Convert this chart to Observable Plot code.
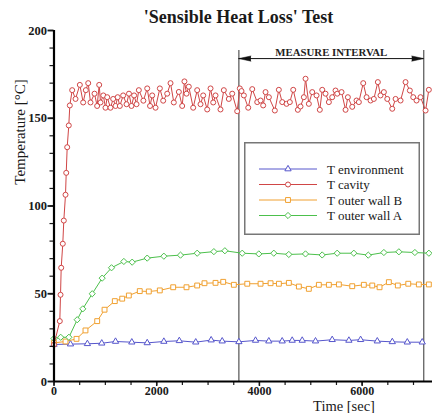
<!DOCTYPE html>
<html>
<head>
<meta charset="utf-8">
<script src="https://cdn.jsdelivr.net/npm/d3@7"></script>
<script src="https://cdn.jsdelivr.net/npm/@observablehq/plot@0.6"></script>
<style>
  body { margin: 0; background: #fff; }
  #wrap { position: relative; width: 432px; height: 413px; overflow: hidden;
          font-family: "Liberation Serif", "Times New Roman", serif; color: #1a1a1a; }
  #wrap > svg { position: absolute; left: 0; top: 0; }
  .title { position: absolute; left: 238.5px; top: 6px; transform: translateX(-50%);
           white-space: nowrap; font-weight: bold; font-size: 18px; line-height: 22px; }
  .ylab { position: absolute; left: 20px; top: 132px; transform: translate(-50%, -50%) rotate(-90deg);
          white-space: nowrap; font-size: 15px; }
  .xlab { position: absolute; left: 344px; top: 399px; transform: translateX(-50%);
          white-space: nowrap; font-size: 14.5px; line-height: 14px; }
</style>
</head>
<body>
<div id="wrap">
  <div class="title">'Sensible Heat Loss' Test</div>
  <div class="ylab">Temperature [°C]</div>
  <div class="xlab">Time [sec]</div>
</div>
<script>
// ---- data: [time (sec), temperature (°C)] ----
const environment = [[0,21.1],[321,21.3],[650,21.5],[930,21.8],[1198,22.8],[1515,22.4],[1815,22],[2139,22.8],[2440,23.2],[2760,22.4],[3060,23.6],[3275,23],[3600,22.6],[3924,23.4],[4183,23],[4443,23],[4638,23.4],[4833,23.4],[5092,23],[5417,23.8],[5742,23.4],[5970,23.8],[6295,23],[6587,22.6],[6879,22.4],[7170,22.4]];

const cavity = [[0,21],[113,34.4],[127,49.4],[140,64.8],[171,78.5],[191,91.7],[224,106.4],[238,118.9],[257,133.5],[288,145.9],[308,157.3],[354,166],[419,161],[503,169],[568,159],[620,166],[666,170],[711,159],[789,164],[840,157],[880,169],[906,159],[960,163],[1003,156],[1036,162],[1100,156],[1152,161],[1198,157],[1240,162],[1282,157],[1347,163],[1412,158],[1460,164],[1509,157],[1560,163],[1607,158],[1652,166],[1740,160],[1815,167],[1870,157],[1912,163],[1977,156],[2061,167],[2126,160],[2204,164],[2269,170],[2333,159],[2431,165],[2496,157],[2540,171],[2580,164],[2625,168],[2710,156],[2788,166],[2853,158],[2905,163],[2983,155],[3048,167],[3100,159],[3145,163],[3242,155],[3307,166],[3404,161],[3470,164],[3567,154],[3618,167],[3651,165.5],[3697,163],[3782,156],[3860,166.6],[3957,159.2],[4022,160.1],[4073,157.3],[4119,164.9],[4184,162],[4300,154.4],[4378,166.2],[4444,159.2],[4528,158.2],[4592,159.2],[4658,166.2],[4748,154.8],[4800,156.7],[4865,162],[4898,172.5],[4962,158.2],[5028,164.9],[5112,163],[5176,154.8],[5223,166.2],[5287,164],[5352,159.2],[5417,162],[5482,165.8],[5515,164],[5599,164.9],[5677,154.8],[5722,162],[5807,156.5],[5891,160.1],[5936,159.2],[6021,170],[6086,162],[6164,160.1],[6228,161],[6306,170.6],[6358,163],[6423,164.9],[6489,161],[6586,155.4],[6651,161],[6748,160.1],[6845,170.6],[6929,165.8],[6995,162],[7059,160.1],[7137,162],[7235,154.4],[7299,166.2]];

const wallB = [[0,22],[224,22.8],[438,24.3],[613,29.1],[841,34.4],[984,40.9],[1184,45.8],[1328,47.2],[1457,49],[1670,51.5],[1846,51.3],[2060,51.9],[2321,53.7],[2580,53.7],[2788,54.7],[2930,56],[3145,56.2],[3295,56.8],[3502,55.1],[3763,55.7],[4022,55.7],[4217,56],[4379,55.7],[4573,56.2],[4768,54.1],[4962,52.8],[5157,55.1],[5352,55.1],[5547,55.3],[5807,54.3],[6033,55.1],[6197,54.7],[6339,53.7],[6520,56.6],[6695,54.7],[6898,55.7],[7104,55.3],[7299,55.3]];

const wallA = [[0,24.5],[130,25.2],[290,25.2],[452,35.2],[561,41.4],[744,50],[938,58.9],[1120,64.8],[1360,68.4],[1522,68],[1815,70.3],[2139,71.4],[2463,72],[2788,73.1],[3113,74],[3327,74.5],[3665,73.1],[3988,72.7],[4280,73.1],[4572,72.4],[4897,72.7],[5222,72.1],[5514,73.1],[5838,73.1],[6119,72],[6423,73.5],[6715,73.9],[7027,73.5],[7300,73.1]];

const seriesNames = ["T environment", "T cavity", "T outer wall B", "T outer wall A"];
const seriesColors = ["#5656cc", "#d04646", "#f0a030", "#4cc04c"];
const seriesSymbols = ["triangle2", "circle", "square2", "diamond2"];
const seriesR = [3, 2.5, 3.1, 2.8];

const measureInterval = [3600, 7200];
const xTicks = [0, 2000, 4000, 6000];
const yTicks = [0, 50, 100, 150, 200];
const xMinor = d3.range(0, 7400, 500);
const yMinor = d3.range(0, 201, 10);

const seriesData = [environment, cavity, wallB, wallA];
const rows = seriesData.map((s, k) => s.map(([t, v]) => ({t, v, k})));

const lineMarks = [];
for (const k of [0, 2, 3, 1]) {
  lineMarks.push(Plot.line(rows[k], {x: "t", y: "v", stroke: seriesColors[k], strokeWidth: 1}));
  lineMarks.push(Plot.dot(rows[k], {x: "t", y: "v", stroke: seriesColors[k], fill: "white",
    strokeWidth: 1, symbol: seriesSymbols[k], r: seriesR[k]}));
}

const chart = Plot.plot({
  width: 432, height: 413,
  marginTop: 30, marginBottom: 32, marginLeft: 53.5, marginRight: 0,
  x: {domain: [0, 7370]},
  y: {domain: [0, 200]},
  style: {fontFamily: "Liberation Serif, Times New Roman, serif", fontSize: "12px", fontWeight: "bold", color: "#1a1a1a", background: "transparent"},
  marks: [
    Plot.ruleX(measureInterval, {y1: 0, y2: 188.6, stroke: "#444", strokeWidth: 1.1}),
    Plot.ruleY([184], {x1: measureInterval[0], x2: measureInterval[1], stroke: "#111", strokeWidth: 1}),
    Plot.vector(measureInterval, {x: d => d, y: () => 184, rotate: (d, i) => i === 0 ? -90 : 90,
      anchor: "end", shape: "spike", length: 12, r: 2.6, fill: "#111", stroke: "#111", strokeWidth: 0.5}),
    Plot.text(["MEASURE INTERVAL"], {x: (measureInterval[0] + measureInterval[1]) / 2, y: 187.5,
      text: d => d, fontSize: 10.8, fontWeight: "bold", fill: "#222"}),
    ...lineMarks,
    Plot.axisX({ticks: xMinor, tickSize: 4, text: null, label: null, strokeWidth: 1.2}),
    Plot.axisX({ticks: xTicks, tickSize: 5, tickPadding: 0, tickFormat: d => String(d), label: null, strokeWidth: 1.5, fontSize: 12}),
    Plot.axisY({ticks: yMinor, tickSize: 4, text: null, label: null, strokeWidth: 1.2}),
    Plot.axisY({ticks: yTicks, tickSize: 6, tickPadding: 1, tickFormat: d => String(d), label: null, strokeWidth: 1.8, fontSize: 12.5}),
    Plot.ruleX([0], {stroke: "#000", strokeWidth: 2.2}),
    Plot.ruleY([0], {stroke: "#000", strokeWidth: 2.2})
  ]
});

const wrap = document.getElementById("wrap");
wrap.insertBefore(chart, wrap.firstChild);

// legend box
const lw = 176, lh = 93;
const ys = [27, 42.5, 58, 73.5];
const lg = d3.create("svg").attr("width", lw).attr("height", lh)
  .style("position", "absolute").style("left", "244px").style("top", "142px");
lg.append("rect").attr("x", 0.75).attr("y", 0.75).attr("width", lw - 1.5).attr("height", lh - 1.5)
  .attr("fill", "white").attr("stroke", "#777").attr("stroke-width", 1.5);
seriesNames.forEach((name, k) => {
  const g = lg.append("g").attr("transform", `translate(0,${ys[k]})`);
  g.append("line").attr("x1", 15).attr("x2", 73).attr("y1", 0).attr("y2", 0)
    .attr("stroke", seriesColors[k]).attr("stroke-width", 1);
  const sym = {triangle2: d3.symbolTriangle2, circle: d3.symbolCircle, square2: d3.symbolSquare2, diamond2: d3.symbolDiamond2}[seriesSymbols[k]];
  g.append("path").attr("transform", "translate(44,0)")
    .attr("d", d3.symbol(sym, seriesR[k] * seriesR[k] * Math.PI)())
    .attr("fill", "white").attr("stroke", seriesColors[k]).attr("stroke-width", 1);
  g.append("text").attr("x", 83).attr("y", 0).attr("dy", "0.35em")
    .attr("font-family", "Liberation Serif, Times New Roman, serif").attr("font-size", 13)
    .attr("fill", "#1a1a1a").text(name);
});
wrap.appendChild(lg.node());
</script>
</body>
</html>
